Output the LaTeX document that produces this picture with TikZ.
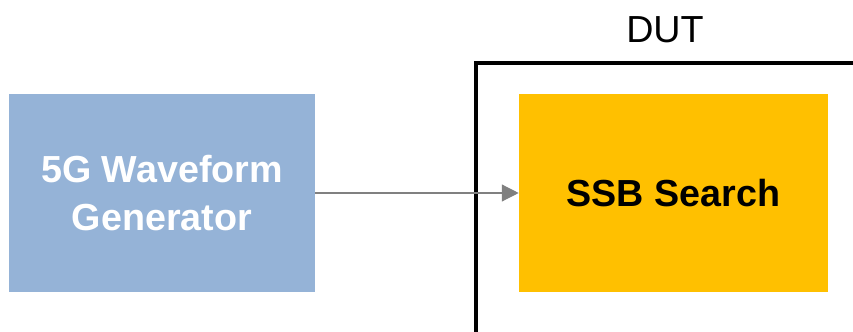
\documentclass[tikz,border=0pt]{standalone}
\usepackage{fontspec}
\setmainfont{Liberation Sans}
\usetikzlibrary{arrows.meta}
\definecolor{genblue}{HTML}{95B3D7}
\definecolor{ssbgold}{HTML}{FFC000}
\definecolor{wiregray}{HTML}{808080}
\begin{document}
\begin{tikzpicture}[font=\fontsize{26.8}{34}\selectfont,
  blk/.style={minimum width=7.65cm,minimum height=4.95cm,align=center,inner sep=2pt,font=\fontsize{26.8}{34}\selectfont\bfseries},
  dutframe/.style={draw=black,line width=2.9pt,minimum width=10cm,minimum height=8cm,anchor=north west}]
  \useasboundingbox (0,0) rectangle (21.325,8.275);
  \node[dutframe] (dut) at (11.85,6.75){};
  \node (dutlbl) at (16.625,7.52){DUT};
  \node[blk,fill=genblue,text=white] (gen) at (4.05,3.45){5G Waveform\\Generator};
  \node[blk,fill=ssbgold,minimum width=7.725cm] (ssb) at (16.8375,3.45){SSB Search};
  \draw[wiregray,line width=0.9pt,-{Triangle[length=0.42cm,width=0.42cm]}] (gen) -- (ssb);
\end{tikzpicture}
\end{document}
